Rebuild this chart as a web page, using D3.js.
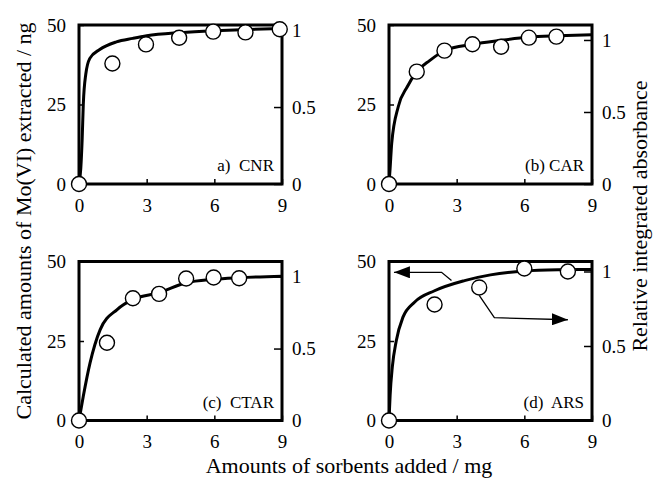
<!DOCTYPE html>
<html>
<head>
<meta charset="utf-8">
<script src="https://cdn.jsdelivr.net/npm/d3@7"></script>
<style>
  body { margin: 0; background: #fff; }
  svg, svg text { font-family: "Liberation Serif", "Times New Roman", serif; }
</style>
</head>
<body>
<svg id="chart" width="654" height="479"></svg>
<script>
// tick labels
var xTicks = [0, 3, 6, 9],
    leftTicks = [0, 25, 50],
    rightTicks = [0, 0.5, 1];

var panelNames = ["a)  CNR", "(b) CAR", "(c)  CTAR", "(d)  ARS"];

// top of each right-hand axis (relative absorbance)
var rightMax = [1.033, 1.104, 1.105, 1.067];

// circles: relative integrated absorbance (right axis)
var pointX = [
    [0, 1.48, 2.97, 4.44, 5.95, 7.38, 8.9],
    [0, 1.23, 2.46, 3.7, 4.97, 6.2, 7.42],
    [0, 1.24, 2.39, 3.55, 4.75, 5.97, 7.1],
    [0, 2.02, 4, 6, 7.93]
];
var pointY = [
    [0, 0.783, 0.907, 0.95, 0.99, 0.985, 1.005],
    [0, 0.78, 0.926, 0.97, 0.953, 1.016, 1.023],
    [0, 0.54, 0.85, 0.88, 0.987, 0.994, 0.989],
    [0, 0.778, 0.893, 1.02, 1.0]
];

// curves: calculated amounts of Mo(VI) extracted / ng (left axis)
var curveX = [
    [0, 0.08, 0.14, 0.19, 0.3, 0.48, 0.92, 1.66, 2.39, 3, 4.5, 6, 7.5, 9],
    [0, 0.05, 0.12, 0.41, 0.81, 1.23, 1.8, 2.46, 3.7, 5, 6.2, 7.5, 9],
    [0, 0.19, 0.49, 0.94, 1.69, 2.39, 3.55, 4.75, 5.97, 7.1, 9],
    [0, 0.05, 0.15, 0.32, 0.62, 1.13, 2.02, 3.35, 4.5, 6, 7.5, 9]
];
var curveY = [
    [0, 5, 14, 25, 34.5, 39.5, 42.3, 44.7, 45.8, 46.6, 47.6, 48.2, 48.6, 48.9],
    [0, 5, 12.8, 24.3, 30.6, 35.3, 38.8, 41.9, 43.9, 45.2, 46.2, 46.6, 46.9],
    [0, 7.6, 18.1, 28.6, 34.9, 38.1, 40.2, 43.3, 44.4, 44.9, 45.4],
    [0, 8, 17, 25, 32.5, 37.2, 40.8, 44, 45.8, 47, 47.4, 47.5]
];

// arrows in panel (d): left one points at the left axis, right one at the right axis
var arrowLeftX = [2.77, 2.33, 0.22], arrowLeftY = [44, 46.6, 46.6];
var arrowRightX = [4.0, 4.67, 7.93], arrowRightY = [0.84, 0.69, 0.676];

var svg = d3.select("#chart");

var colX = [79, 389], rowY = [25, 261.5],
    pw = 203, ph = 159;

svg.append("defs").append("marker")
    .attr("id", "head")
    .attr("viewBox", "0 0 16 12")
    .attr("refX", 16).attr("refY", 6)
    .attr("markerWidth", 16).attr("markerHeight", 12)
    .attr("markerUnits", "userSpaceOnUse")
    .attr("orient", "auto")
  .append("path")
    .attr("d", "M0,0 L16,6 L0,12 Z")
    .attr("fill", "#000");

var fmt = function(d) { return String(d); };

panelNames.forEach(function(name, i) {
    var left = colX[i % 2], top = rowY[Math.floor(i / 2)];
    var g = svg.append("g").attr("transform", "translate(" + left + "," + top + ")");

    var x = d3.scaleLinear().domain([0, 9]).range([0, pw]);
    var yL = d3.scaleLinear().domain([0, 50]).range([ph, 0]);
    var yR = d3.scaleLinear().domain([0, rightMax[i]]).range([ph, 0]);

    // axes with inward ticks
    var ax = g.append("g").attr("transform", "translate(0," + ph + ")")
        .call(d3.axisBottom(x).tickValues(xTicks).tickFormat(fmt).tickSize(-5).tickPadding(14.5));
    var al = g.append("g")
        .call(d3.axisLeft(yL).tickValues(leftTicks).tickFormat(fmt).tickSize(-5).tickPadding(13));
    var ar = g.append("g").attr("transform", "translate(" + pw + ",0)")
        .call(d3.axisRight(yR).tickValues(rightTicks).tickFormat(fmt).tickSize(-8).tickPadding(10));

    [ax, al, ar].forEach(function(a) {
        a.attr("font-family", null).attr("font-size", null);
        a.select(".domain").remove();
        a.selectAll("line").attr("stroke-width", 1.5);
        a.selectAll("text").attr("font-size", 19).attr("fill", "#000");
    });

    // frame
    g.append("rect")
        .attr("width", pw).attr("height", ph)
        .attr("fill", "none").attr("stroke", "#000").attr("stroke-width", 3);

    // fitted curve
    var line = d3.line()
        .x(function(d) { return x(d[0]); })
        .y(function(d) { return yL(d[1]); })
        .curve(d3.curveMonotoneX);
    g.append("path")
        .datum(d3.zip(curveX[i], curveY[i]))
        .attr("d", line)
        .attr("fill", "none").attr("stroke", "#000").attr("stroke-width", 3);

    if (i === 3) {
        var la = d3.line()
            .x(function(d) { return x(d[0]); })
            .y(function(d) { return yL(d[1]); });
        g.append("path")
            .datum(d3.zip(arrowLeftX, arrowLeftY))
            .attr("d", la)
            .attr("fill", "none").attr("stroke", "#000").attr("stroke-width", 1.3)
            .attr("marker-end", "url(#head)");
        var ra = d3.line()
            .x(function(d) { return x(d[0]); })
            .y(function(d) { return yR(d[1]); });
        g.append("path")
            .datum(d3.zip(arrowRightX, arrowRightY))
            .attr("d", ra)
            .attr("fill", "none").attr("stroke", "#000").attr("stroke-width", 1.3)
            .attr("marker-end", "url(#head)");
    }

    // measured points
    g.selectAll("circle.pt")
        .data(d3.zip(pointX[i], pointY[i]))
        .enter().append("circle")
        .attr("class", "pt")
        .attr("cx", function(d) { return x(d[0]); })
        .attr("cy", function(d) { return yR(d[1]); })
        .attr("r", 7.5)
        .attr("fill", "#fff").attr("stroke", "#000").attr("stroke-width", 1.4);

    g.append("text")
        .attr("x", pw - 8).attr("y", ph - 13)
        .attr("text-anchor", "end")
        .attr("font-size", 17)
        .style("white-space", "pre")
        .text(name);
});

// axis titles
svg.append("text")
    .attr("transform", "translate(31,221) rotate(-90)")
    .attr("text-anchor", "middle").attr("font-size", 22)
    .text("Calculated amounts of Mo(VI) extracted / ng");

svg.append("text")
    .attr("transform", "translate(647,216) rotate(-90)")
    .attr("text-anchor", "middle").attr("font-size", 22)
    .text("Relative integrated absorbance");

svg.append("text")
    .attr("x", 349).attr("y", 473)
    .attr("text-anchor", "middle").attr("font-size", 22)
    .text("Amounts of sorbents added / mg");
</script>
</body>
</html>
